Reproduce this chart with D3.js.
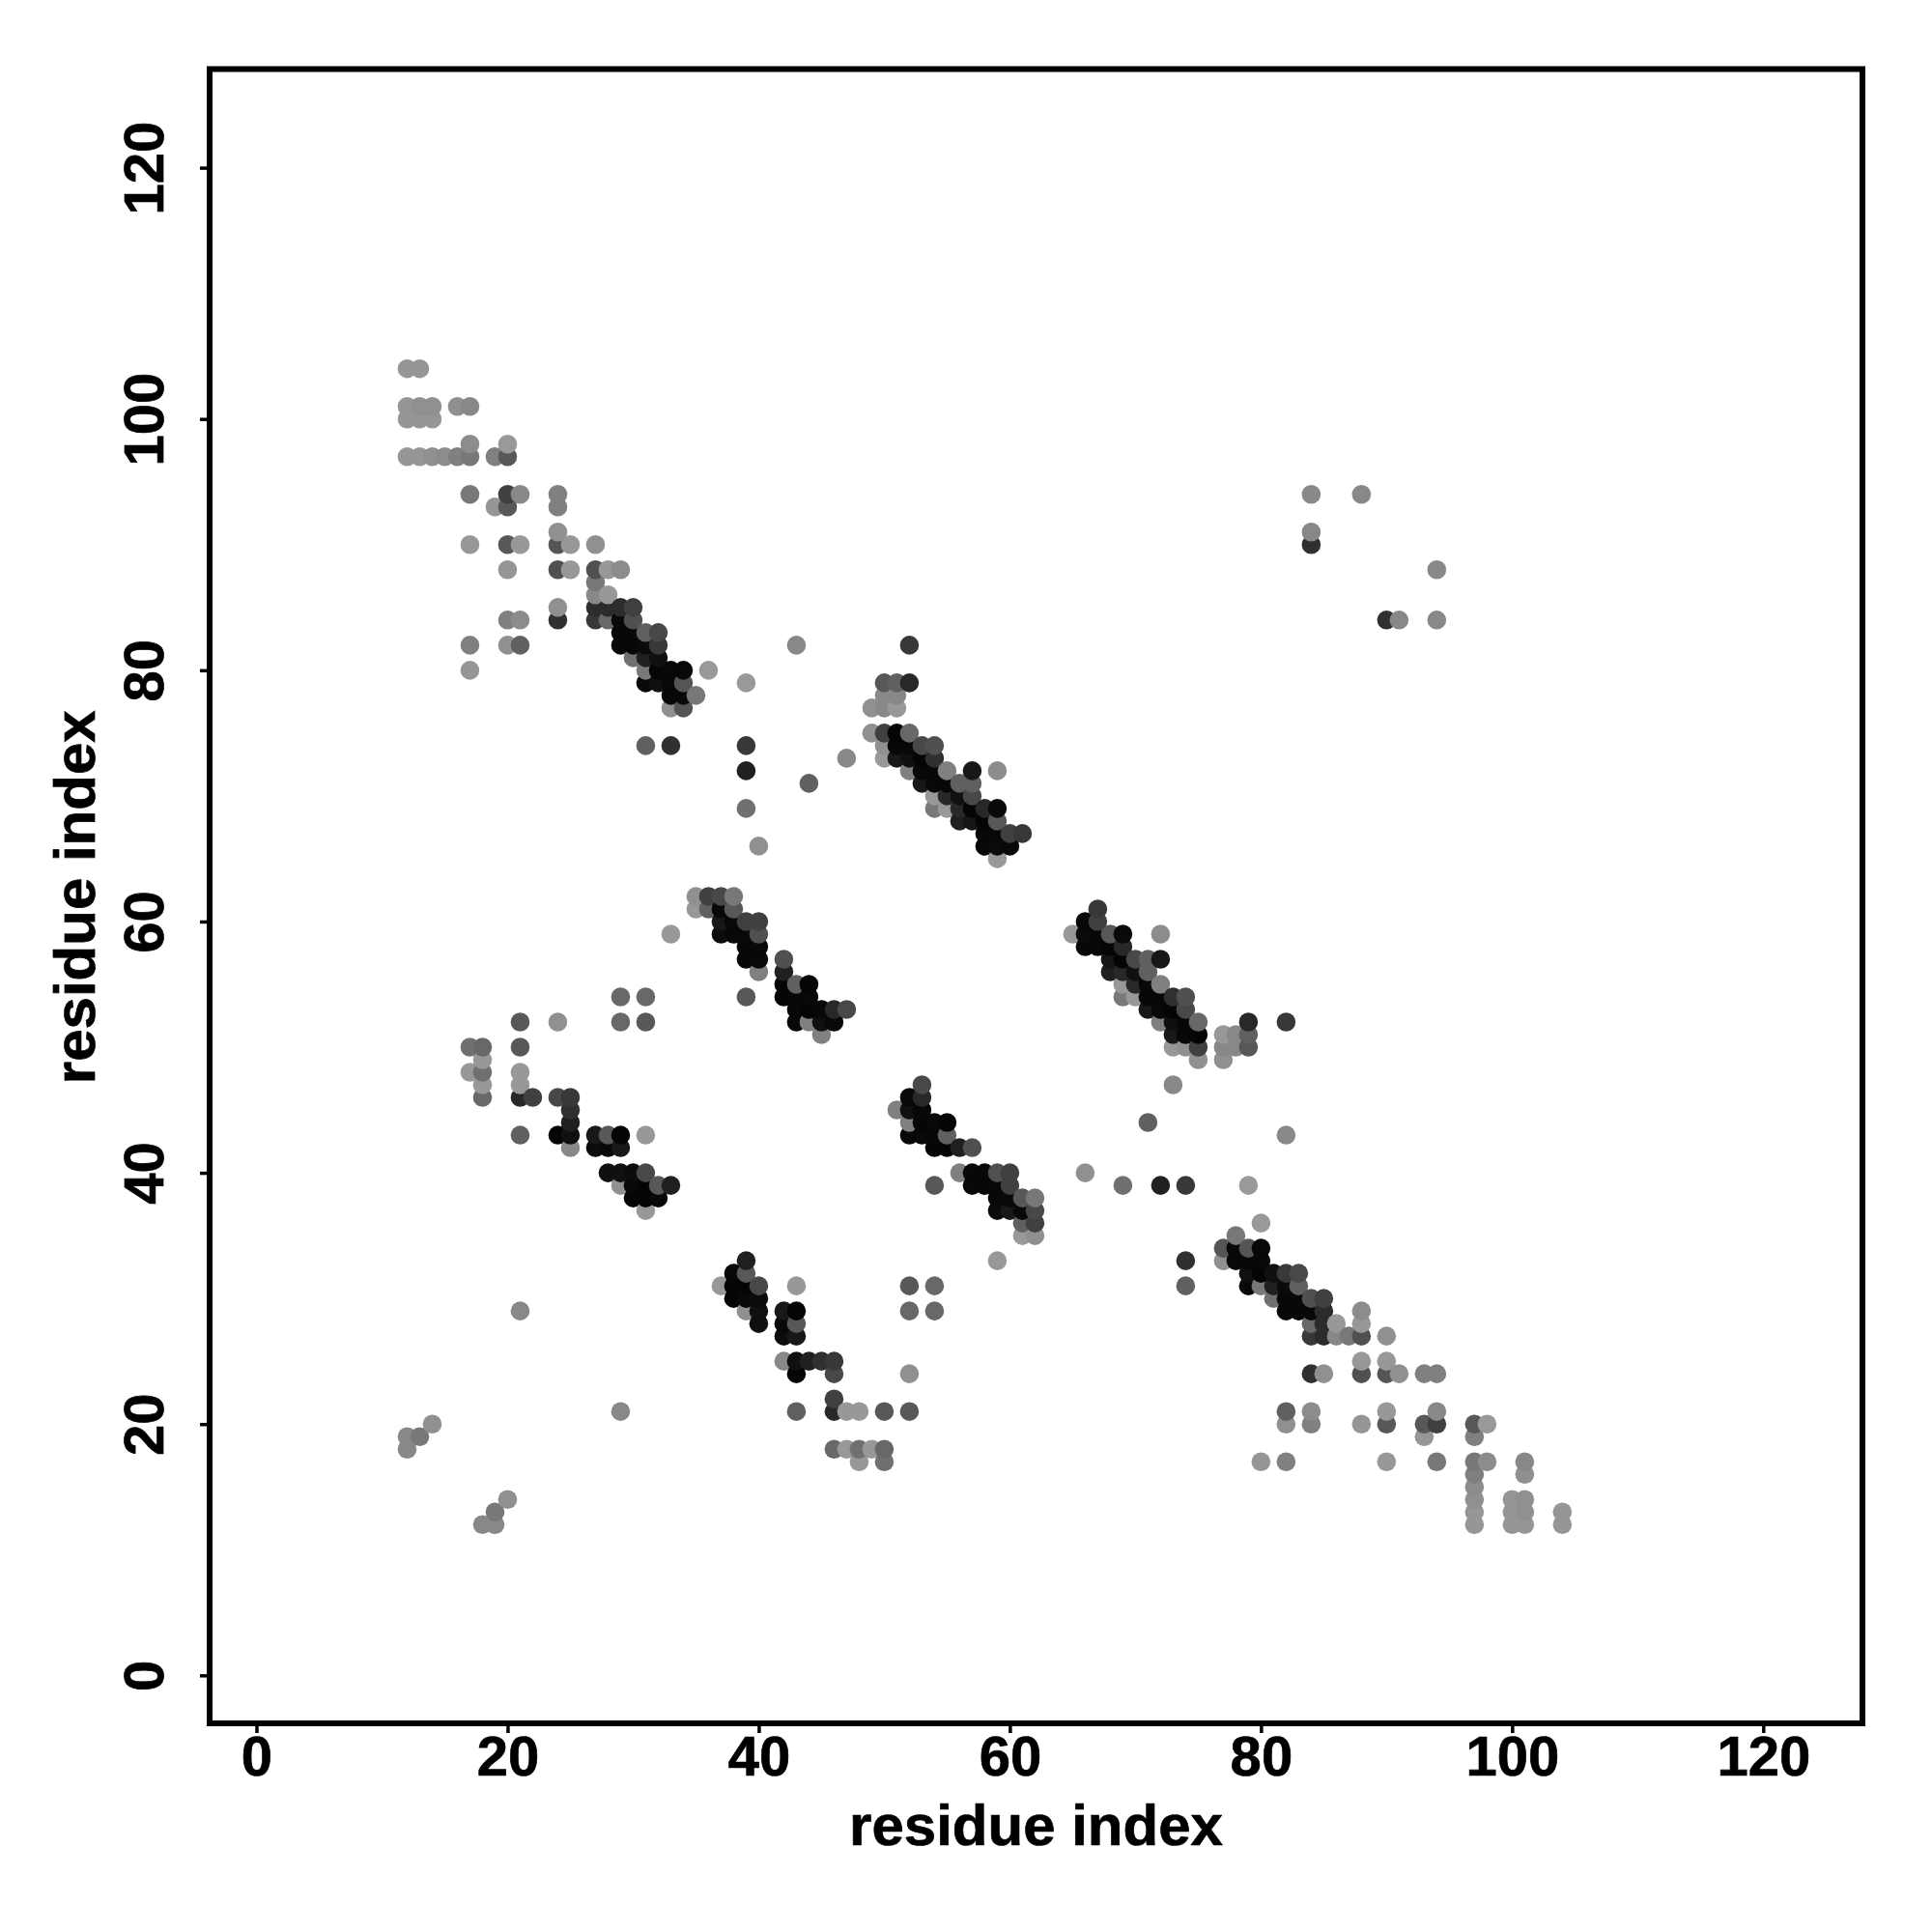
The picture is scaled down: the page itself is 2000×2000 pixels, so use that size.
<!DOCTYPE html>
<html><head><meta charset="utf-8">
<script src="https://cdn.jsdelivr.net/npm/d3@7"></script>
<style>html,body{margin:0;padding:0;background:#fff}svg{display:block}
text{font-family:"Liberation Sans",Arial,sans-serif;font-weight:bold;fill:#000;stroke:#000;stroke-width:0.7px}</style>
</head><body><svg id="c" width="2000" height="2000"></svg>
<script>
const tickValues = [0,20,40,60,80,100,120];
const axisTitle = "residue index";
// contacts above the diagonal: residue, partner residues, grey level of each
const residues = [12,13,14,15,16,17,18,19,20,21,22,24,25,27,28,29,30,31,32,33,34,35,36,37,38,39,40,42,43,44,45,46,47,49,50,51,52,53,54,55,56,57,58,59,60,61,84,88];
const partners = [
 [18,19,97,100,101,104],[19,97,100,101,104],[20,97,100,101],[97],[97,101],
 [48,50,80,82,90,94,97,98,101],[46,47,48,49,50],[93,97],[82,84,88,90,93,94,97,98],
 [29,43,46,47,48,50,52,82,84,90,94],[46],[43,46,52,84,85,88,90,91,93,94],
 [42,43,44,45,46,88,90],[42,43,84,85,86,87,88,90],[40,42,43,84,85,86,88],
 [39,40,42,43,52,54,82,83,84,85,88],[38,39,40,81,82,83,84,85],
 [37,38,39,40,43,52,54,74,79,80,81,82,83],[38,39,79,80,81,82,83],[39,59,74,77,78,79,80],
 [77,78,79,80],[61,62,78],[61,62,80],[59,60,61,62],[59,60,61,62],
 [54,57,58,59,60,69,72,74,79],[56,57,58,59,60,66],[54,55,56,57],[52,53,54,55,82],
 [52,53,54,55,71],[51,52,53],[52,53],[53,73],[75,77],[73,74,75,77,78,79],[73,74,75,77,78,79],
 [72,73,74,75,79,82],[71,72,73,74],[69,70,71,72,73,74],[69,70,71,72],[68,69,70,71],
 [68,69,70,71,72],[66,67,68,69],[65,66,67,68,69,72],[66,67],[67],[90,91,94],[94]
];
const greys = [
 [0x88,0x88,0x96,0x96,0x96,0x96],[0x78,0x96,0x96,0x90,0x96],[0x90,0x90,0x96,0x90],[0x8c],[0x80,0x90],
 [0x98,0x70,0x96,0x80,0x98,0x78,0x78,0x8c,0x88],[0x68,0x98,0x70,0x98,0x68],[0x96,0x80],[0x90,0x80,0x96,0x58,0x58,0x40,0x58,0x99],
 [0x88,0x60,0x28,0x98,0x98,0x58,0x58,0x60,0x8c,0x98,0x88],[0x40],[0x05,0x48,0x90,0x30,0x90,0x50,0x55,0x90,0x80,0x80],
 [0x88,0x10,0x20,0x30,0x38,0x98,0x98],[0x0c,0x18,0x38,0x2c,0x88,0x78,0x50,0x90],[0x10,0x08,0x58,0x68,0x2c,0x98,0x98],
 [0x90,0x10,0x18,0x05,0x68,0x68,0x08,0x08,0x08,0x2c,0x8c],[0x05,0x08,0x0c,0x70,0x08,0x08,0x50,0x40],
 [0x98,0x05,0x05,0x48,0x98,0x58,0x68,0x60,0x08,0x78,0x20,0x0a,0x60],[0x08,0x58,0x10,0x05,0x10,0x38,0x48],[0x20,0x98,0x30,0x90,0x08,0x08,0x08],
 [0x55,0x08,0x55,0x08],[0x98,0x90,0x78],[0x60,0x40,0x99],[0x0c,0x18,0x08,0x48],[0x08,0x08,0x58,0x78],
 [0x58,0x08,0x08,0x08,0x40,0x70,0x20,0x38,0x99],[0x80,0x08,0x08,0x50,0x40,0x90],[0x05,0x05,0x20,0x50],[0x08,0x08,0x08,0x60,0x88],
 [0x80,0x05,0x08,0x05,0x60],[0x80,0x10,0x08],[0x08,0x28],[0x48,0x88],[0x90,0x90],[0x98,0x90,0x40,0x88,0x88,0x58],[0x18,0x08,0x05,0x98,0x88,0x60],
 [0x80,0x10,0x08,0x68,0x28,0x38],[0x18,0x08,0x05,0x48],[0x78,0x98,0x08,0x08,0x30,0x50],[0x98,0x28,0x08,0x80],[0x20,0x28,0x10,0x60],
 [0x15,0x05,0x48,0x60,0x18],[0x08,0x08,0x05,0x28],[0x98,0x0c,0x08,0x58,0x0a,0x8c],[0x08,0x40],[0x38],[0x30,0x88,0x88],[0x88]
];

const contacts = [];
residues.forEach((r,i)=>partners[i].forEach((p,k)=>{
  contacts.push({x:r,y:p,g:greys[i][k]});
  contacts.push({x:p,y:r,g:greys[i][k]});
}));
contacts.sort((a,b)=>d3.ascending(a.x,b.x)||d3.ascending(a.y,b.y));

const L=217,R=1928,T=71.5,B=1784;
const x=d3.scaleLinear().domain([-3.73,127.9]).range([L,R]);
const y=d3.scaleLinear().domain([-3.82,127.85]).range([B,T]);
const svg=d3.select("#c");
svg.append("g").selectAll("circle").data(contacts).join("circle")
  .attr("cx",d=>x(d.x)).attr("cy",d=>y(d.y)).attr("r",9.8)
  .attr("fill",d=>d3.rgb(d.g,d.g,d.g));
svg.append("rect").attr("x",L).attr("y",T).attr("width",R-L).attr("height",B-T)
  .attr("fill","none").attr("stroke","#000").attr("stroke-width",6);

const ax=svg.append("g").attr("transform",`translate(0,${B})`)
  .call(d3.axisBottom(x).tickValues(tickValues).tickSize(10).tickSizeOuter(0));
ax.select(".domain").remove();
ax.selectAll("line").attr("stroke-width",3.5).attr("stroke","#000");
ax.selectAll("text").attr("font-size",58).attr("y",0).attr("dy",0)
  .attr("transform","translate(0,54)").attr("fill","#000").attr("text-anchor","middle");
const ay=svg.append("g").attr("transform",`translate(${L},0)`)
  .call(d3.axisLeft(y).tickValues(tickValues).tickSize(10).tickSizeOuter(0));
ay.select(".domain").remove();
ay.selectAll("line").attr("stroke-width",3.5).attr("stroke","#000");
ay.selectAll("text").attr("font-size",58).attr("x",0).attr("dy",0).attr("y",0)
  .attr("transform","translate(-48,0) rotate(-90)").attr("fill","#000").attr("text-anchor","middle");
svg.append("text").attr("x",(L+R)/2).attr("y",1910).attr("text-anchor","middle").attr("font-size",60).text(axisTitle);
svg.append("text").attr("transform",`translate(98,${(T+B)/2+1}) rotate(-90)`).attr("text-anchor","middle").attr("font-size",60).text(axisTitle);
</script></body></html>
